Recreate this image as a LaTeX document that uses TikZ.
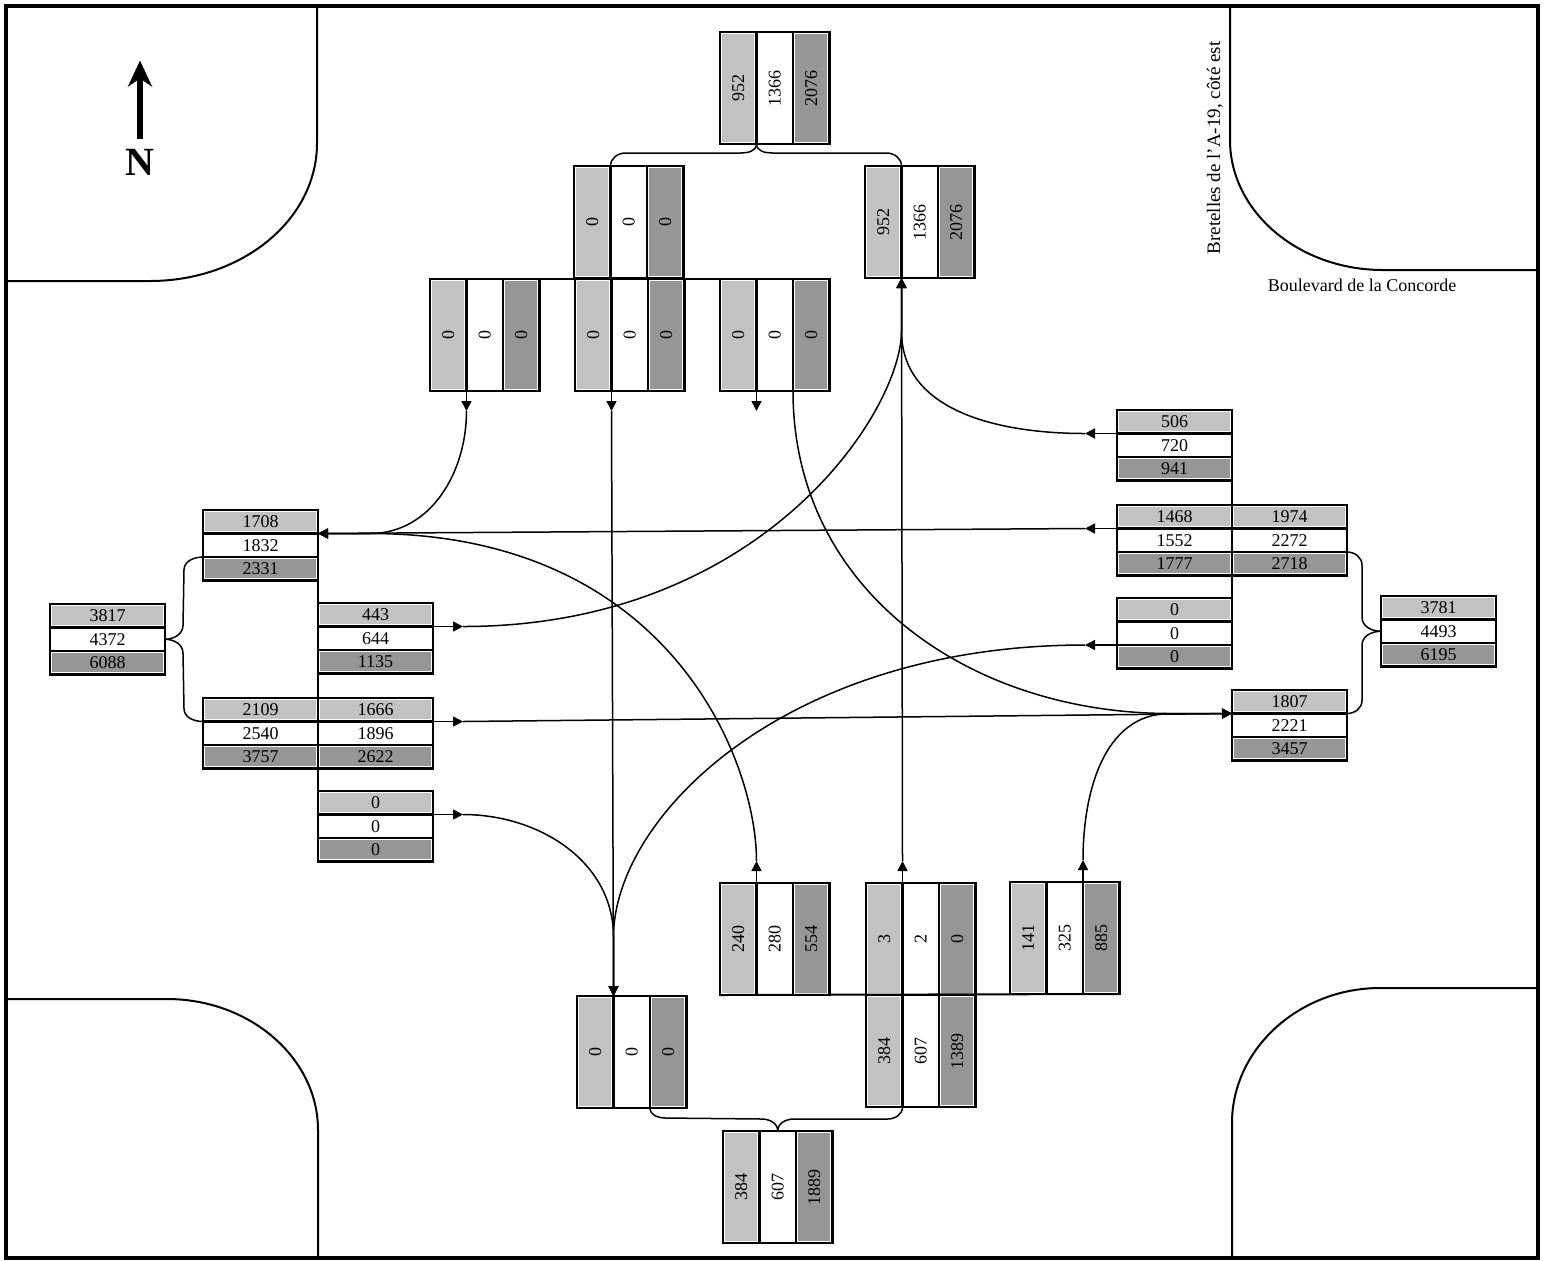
\documentclass[tikz,border=0pt]{standalone}
\usepackage{fontspec}
\setmainfont{Liberation Serif}
\usepackage{graphicx}
\usetikzlibrary{arrows.meta, calc}
\definecolor{greylight}{RGB}{194,194,194}
\definecolor{greydark}{RGB}{150,150,150}

% three stacked rows: light / white / dark
\newcommand{\rowgroup}[6]{%
  \node[rowcell, lightfill, anchor=north west] (#1-a) at (#2,#3) {#4};
  \node[rowcell, anchor=north west] (#1-b) at (#1-a.south west) {#5};
  \node[rowcell, darkfill, anchor=north west] (#1-c) at (#1-b.south west) {#6};
}
% three side-by-side columns, text turned
\newcommand{\colgroup}[6]{%
  \node[colcell, lightfill, anchor=north west] (#1-a) at (#2,#3) {\rotatebox{90}{#4}};
  \node[colcell, anchor=north west] (#1-b) at (#1-a.north east) {\rotatebox{90}{#5}};
  \node[colcell, darkfill, anchor=north west] (#1-c) at (#1-b.north east) {\rotatebox{90}{#6}};
}

\begin{document}
\begin{tikzpicture}[x=0.5pt, y=-0.5pt,
    rowcell/.style={draw, line width=1.1pt, inner sep=0pt, outer sep=0pt, minimum width=57.5pt, minimum height=11.75pt, font=\fontsize{9}{10}\selectfont},
    colcell/.style={draw, line width=1.1pt, inner sep=0pt, outer sep=0pt, minimum width=18.25pt, minimum height=56pt, font=\fontsize{9}{10}\selectfont},
    lightfill/.style={path picture={\fill[greylight] ([shift={(1.2pt,-1.2pt)}]path picture bounding box.north west) rectangle ([shift={(-1.2pt,1.2pt)}]path picture bounding box.south east);}},
    darkfill/.style={path picture={\fill[greydark] ([shift={(1.2pt,-1.2pt)}]path picture bounding box.north west) rectangle ([shift={(-1.2pt,1.2pt)}]path picture bounding box.south east);}},
    road/.style={line width=1pt},
    frame/.style={line width=1.6pt},
    flow/.style={line width=0.75pt, -{Triangle[length=5pt,width=5pt]}},
    brace/.style={line width=0.75pt},
    compass/.style={line width=3pt, -{Stealth[length=13pt,width=12pt,inset=4pt]}}
  ]
  \useasboundingbox (0,0) rectangle (1547,1260);

  % frame and kerbs
  \draw[frame] (6,6) rectangle (1538,1258);
  \draw[road] (317,6) -- (317,143) .. controls (317,220) and (242,281) .. (150,281) -- (6,281);
  \draw[road] (1230,6) -- (1230,140) .. controls (1230,212) and (1299,270) .. (1383,270) -- (1538,270);
  \draw[road] (6,999) -- (167,999) .. controls (250,999) and (318,1058) .. (318,1130) -- (318,1258);
  \draw[road] (1538,988) -- (1380,988) .. controls (1299,988) and (1232,1049) .. (1232,1123) -- (1232,1258);

  % street names and north sign
  \node[rotate=90, font=\fontsize{9.5}{11}\selectfont] (ramp) at (1215,148) {Bretelles de l'A-19, côté est};
  \node[font=\fontsize{9}{11}\selectfont] (blvd) at (1362,285) {Boulevard de la Concorde};
  \node[inner sep=0pt, font=\fontsize{20}{24}\selectfont\bfseries] (nsign) at (140,162) {N};
  \draw[compass] ($(nsign.north)+(0,-10)$) -- ++(0,-78);

  % north leg
  \colgroup{ntot}{720}{32}{952}{1366}{2076}
  \colgroup{nl0}{574}{166}{0}{0}{0}
  \colgroup{nr}{865}{166}{952}{1366}{2076}
  \colgroup{n1}{430}{279}{0}{0}{0}
  \colgroup{n2}{575}{279}{0}{0}{0}
  \colgroup{n3}{720}{279}{0}{0}{0}
  \draw[road] (n1-a.north west) -- (n3-c.north east);

  % south leg
  \colgroup{s240}{720}{883}{240}{280}{554}
  \colgroup{s3}{866}{883}{3}{2}{0}
  \colgroup{s141}{1010}{882}{141}{325}{885}
  \colgroup{sin0}{577}{996}{0}{0}{0}
  \colgroup{s384}{866}{995}{384}{607}{1389}
  \colgroup{stot}{723}{1131}{384}{607}{1889}
  \draw[road] (s240-a.south west) -- (s141-c.south east);

  % west leg
  \rowgroup{wout}{203}{510}{1708}{1832}{2331}
  \rowgroup{wtot}{50}{604}{3817}{4372}{6088}
  \rowgroup{w443}{318}{603}{443}{644}{1135}
  \rowgroup{w2109l}{203}{698}{2109}{2540}{3757}
  \rowgroup{w2109r}{318}{698}{1666}{1896}{2622}
  \rowgroup{w0}{318}{791}{0}{0}{0}
  \draw[road] (wout-c.south east) -- (w0-c.south west);

  % east leg
  \rowgroup{e506}{1117}{410}{506}{720}{941}
  \rowgroup{e1468l}{1117}{505}{1468}{1552}{1777}
  \rowgroup{e1468r}{1232}{505}{1974}{2272}{2718}
  \rowgroup{e0}{1117}{598}{0}{0}{0}
  \rowgroup{etot}{1381}{596}{3781}{4493}{6195}
  \rowgroup{ein}{1232}{690}{1807}{2221}{3457}
  \draw[road] (e506-c.south east) -- (e0-c.south east);

  % braces
  \draw[brace] (ntot-b.south west) to[out=-90,in=0] ++(-16,9) -- ($(nl0-b.north west)+(15,-13)$) to[out=180,in=90] (nl0-b.north west);
  \draw[brace] (ntot-b.south west) to[out=-90,in=180] ++(16,9) -- ($(nr-b.north west)+(-15,-13)$) to[out=0,in=90] (nr-b.north west);
  \draw[brace] (stot-b.north) to[out=90,in=0] ++(-16,-12) -- ($(sin0-b.south east)+(15,10)$) to[out=180,in=-90] (sin0-b.south east);
  \draw[brace] (stot-b.north) to[out=90,in=180] ++(16,-12) -- ($(s384-b.south west)+(-15,12)$) to[out=0,in=-90] (s384-b.south west);
  \draw[brace] (wtot-b.east) to[out=0,in=-90] ++(18,-14) -- ($(wout-c.north west)+(-19,13)$) to[out=90,in=180] (wout-c.north west);
  \draw[brace] (wtot-b.east) to[out=0,in=90] ++(18,14) -- ($(w2109l-b.north west)+(-19,-13)$) to[out=-90,in=180] (w2109l-b.north west);
  \draw[brace] (etot-b.west) to[out=180,in=-90] ++(-19,-14) -- ($(e1468r-c.north east)+(15,13)$) to[out=90,in=0] (e1468r-c.north east);
  \draw[brace] (etot-b.west) to[out=180,in=90] ++(-19,14) -- ($(ein-b.north east)+(15,-13)$) to[out=-90,in=0] (ein-b.north east);

  % merge points
  \coordinate (wjoin) at ($(wout-a.south east)+(52,0)$);
  \coordinate (njoin) at ($(nr-b.south west)+(0,53)$);
  \coordinate (sjoin) at ($(sin0-b.north west)+(0,-59)$);
  \coordinate (ejoin) at ($(ein-a.south west)+(-62,0)$);

  % movements
  \draw[flow] (n1-b.south west) -- ++(0,20) coordinate (n1t);
  \draw[flow] (n1t) to[out=-90,in=0] (wjoin) -- (wout-a.south east);
  \draw[flow] (e1468l-a.south west) -- ++(-32,0) coordinate (e1468t);
  \draw[flow] (e1468t) -- (wout-a.south east);
  \draw[flow] (s240-b.north west) -- ++(0,-22) coordinate (s240t);
  \draw[flow] (s240t) .. controls +(0,-100) and +(300,0) .. (wjoin) -- (wout-a.south east);

  \draw[flow] (w443-a.south east) -- ++(30,0) coordinate (w443t);
  \draw[flow] (w443t) .. controls +(300,0) and +(0,80) .. (njoin) -- (nr-b.south west);
  \draw[flow] (e506-a.south west) -- ++(-32,0) coordinate (e506t);
  \draw[flow] (e506t) to[out=180,in=-90] (njoin) -- (nr-b.south west);
  \draw[flow] (s3-b.north west) -- ++(0,-22) coordinate (s3t);
  \draw[flow] (s3t) -- (nr-b.south west);

  \draw[flow] (n2-b.south west) -- ++(0,20) coordinate (n2t);
  \draw[flow] (n2t) -- (sin0-b.north west);
  \draw[flow] (w0-a.south east) -- ++(30,0) coordinate (w0t);
  \draw[flow] (w0t) to[out=0,in=90] (sjoin) -- (sin0-b.north west);
  \draw[flow] (e0-b.south west) -- ++(-32,0) coordinate (e0t);
  \draw[flow] (e0t) .. controls +(-300,0) and +(0,-120) .. (sjoin) -- (sin0-b.north west);

  \draw[flow] (w2109r-a.south east) -- ++(30,0) coordinate (w2109t);
  \draw[flow] (w2109t) -- (ein-a.south west);
  \draw[flow] (n3-b.south west) -- ++(0,20);
  \draw[flow] (n3-c.south west) .. controls +(0,200) and +(-200,0) .. (ejoin) -- (ein-a.south west);
  \draw[flow] (s141-c.north west) -- ++(0,-22) coordinate (s141t);
  \draw[flow] (s141t) to[out=90,in=180] (ejoin) -- (ein-a.south west);
\end{tikzpicture}
\end{document}
